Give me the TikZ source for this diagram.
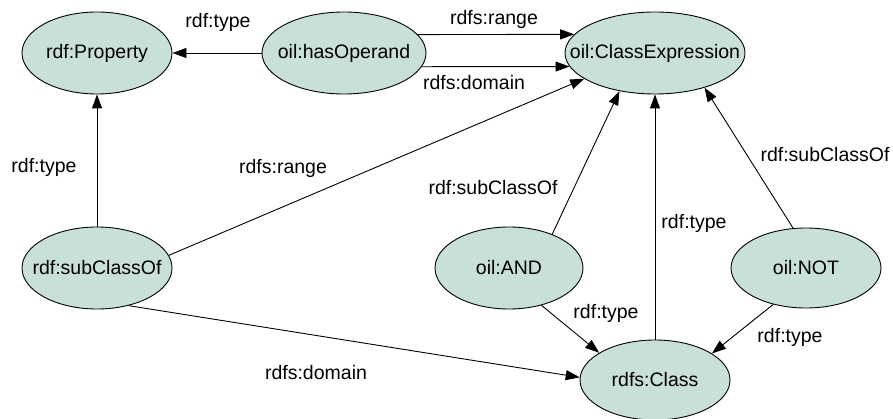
\documentclass[tikz,border=0pt]{standalone}
\usepackage{fontspec}
\setmainfont{Liberation Sans}
\usetikzlibrary{arrows.meta,shapes.geometric}
\definecolor{nodegreen}{RGB}{200,224,214}
\newcommand{\ntext}[1]{\makebox[0pt]{#1}}
\begin{document}
\begin{tikzpicture}[x=1pt,y=-1pt,
    font=\fontsize{19.5}{22}\selectfont,
    res/.style={ellipse,draw,line width=0.9pt,fill=nodegreen,inner sep=0pt,minimum width=150pt,minimum height=82pt},
    arr/.style={line width=0.9pt,-{Triangle[length=14pt,width=10pt]}},
    lbl/.style={inner sep=0pt}]
    \useasboundingbox (0,0) rectangle (893,419);
    % resources
    \node [res] (prop) at (97,53) {\ntext{rdf:Property}};
    \node [res,minimum width=164pt] (hasop) at (344,53) {\ntext{oil:hasOperand}};
    \node [res,minimum width=180pt] (clsexp) at (655,53) {\ntext{oil:ClassExpression}};
    \node [res] (subcls) at (97,268) {\ntext{rdf:subClassOf}};
    \node [res,minimum width=148pt] (and) at (509,268) {\ntext{oil:AND}};
    \node [res,minimum height=80pt] (not) at (806,268) {\ntext{oil:NOT}};
    \node [res,minimum height=80pt] (cls) at (655,380) {\ntext{rdfs:Class}};
    % properties
    \draw [arr] (hasop) -- (prop);
    \draw [arr] (hasop.14) -- (clsexp.167);
    \draw [arr] (hasop.-10) -- (clsexp.-171);
    \draw [arr] (subcls) -- (prop);
    \draw [arr] (subcls.10) -- (clsexp.-160);
    \draw [arr] (subcls.-50) -- (cls.178);
    \draw [arr] (and.38) -- (clsexp.-133);
    \draw [arr] (cls) -- (clsexp);
    \draw [arr] (not.108) -- (clsexp.-35);
    \draw [arr] (and.-49) -- (cls.154);
    \draw [arr] (not.-132) -- (cls.25);
    % labels
    \node [lbl] (l1) at (218,22) {rdf:type};
    \node [lbl] (l2) at (494,19) {rdfs:range};
    \node [lbl] (l3) at (474,83) {rdfs:domain};
    \node [lbl] (l4) at (44,167) {rdf:type};
    \node [lbl] (l5) at (283,168) {rdfs:range};
    \node [lbl] (l6) at (316,373) {rdfs:domain};
    \node [lbl] (l7) at (493,188) {rdf:subClassOf};
    \node [lbl] (l8) at (694,223) {rdf:type};
    \node [lbl] (l9) at (825,155) {rdf:subClassOf};
    \node [lbl] (l10) at (606,313) {rdf:type};
    \node [lbl] (l11) at (790,337) {rdf:type};
\end{tikzpicture}
\end{document}
